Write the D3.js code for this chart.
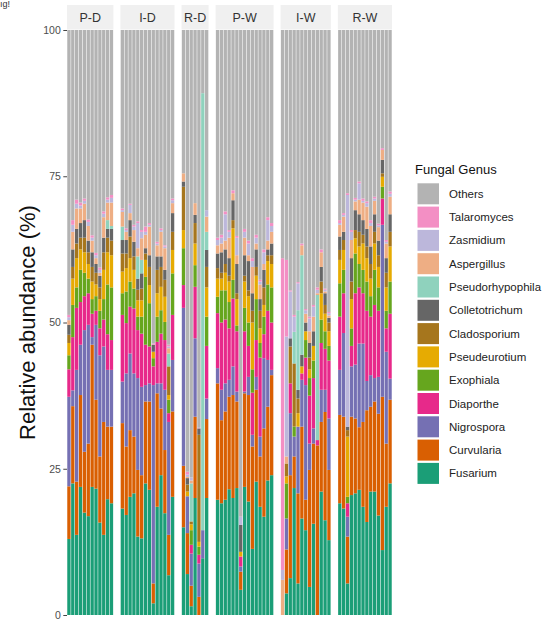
<!DOCTYPE html>
<html>
<head>
<meta charset="utf-8">
<script src="https://cdn.jsdelivr.net/npm/d3@7"></script>
<style>
  body { margin: 0; background: #fff; }
  svg { display: block; font-family: "Liberation Sans", Arial, sans-serif; }
</style>
</head>
<body>
<div id="viz"></div>
<script>
const width = 559;
const height = 625;
const margin = {top: 30, right: 167, bottom: 10, left: 67};
const panelGap = 7;

const facets = ['P-D', 'I-D', 'R-D', 'P-W', 'I-W', 'R-W'];
const barsPerFacet = [12, 14, 7, 15, 13, 14];
const yTicks = [0, 25, 50, 75, 100];

// legend order = top of the stack first
const genera = ['Others', 'Talaromyces', 'Zasmidium', 'Aspergillus', 'Pseudorhypophila', 'Colletotrichum',
  'Cladosporium', 'Pseudeurotium', 'Exophiala', 'Diaporthe', 'Nigrospora', 'Curvularia', 'Fusarium'];
const colors = ['#b3b3b3', '#f38fc4', '#bcb7db', '#eeae84', '#8fd2bd', '#666666',
  '#a6761d', '#e6ab02', '#66a61e', '#e7298a', '#7570b3', '#d95f02', '#1b9e77'];

// relative abundance (%) per sample, in facet order (P-D, I-D, R-D, P-W, I-W, R-W)
const fusarium = [13, 22.5, 13.7, 21.9, 17.5, 16.9, 21.9, 21.6, 15.8, 13.7, 19.8, 19.1,
  18.2, 17.1, 20.2, 20.8, 13.4, 13.1, 22.5, 21.4, 2, 18.5, 23.9, 17.4, 6.8, 20.2,
  15, 7, 1.5, 20, 0, 9.7, 20,
  19.7, 19.1, 19.7, 21.5, 20, 21.7, 4.3, 21.9, 19.4, 11.3, 22.8, 18.5, 16.8, 23, 23.9,
  0, 3.7, 6.3, 21.7, 5.4, 16.5, 14.5, 4.8, 15.6, 0, 21.1, 16.2, 12.8,
  19.1, 18.2, 5.4, 20.5, 20.8, 21.4, 18.5, 15.9, 21.1, 21.1, 17, 11.1, 18.5, 22.5];
const curvularia = [9, 13.2, 9.1, 15.7, 10.4, 12.4, 24.3, 15.2, 11.3, 19.3, 12.4, 13.1,
  14.6, 11.7, 11.4, 9.7, 11.4, 10.8, 14, 15.1, 3.4, 19.4, 11.4, 10.8, 6.9, 14.6,
  10.5, 7, 3.5, 13.9, 3.1, 0, 13.5,
  19.9, 14.2, 15.1, 15.8, 17.6, 14.8, 3.1, 16, 18.2, 17.5, 15.7, 8.6, 15.1, 12.6, 17.1,
  0, 7.5, 17.6, 5.4, 15.4, 15.7, 5.2, 20, 13.7, 29, 11.9, 18.5, 12,
  15.1, 15.7, 8, 13.4, 12.8, 10.7, 14.5, 19.1, 14.5, 15.4, 17.4, 26.2, 10.8, 14.3];
const nigrospora = [15.3, 2.7, 19.1, 8.6, 20.8, 20.3, 1.3, 12.8, 17.3, 12.9, 9.7, 9.7,
  7.1, 12.5, 13.1, 10.8, 15.7, 15.1, 2.8, 3.1, 33.9, 1.7, 4.3, 10.3, 19.3, 8.8,
  27, 6.3, 5.5, 13.4, 5.7, 4.8, 3.5,
  2.6, 5.2, 4.8, 2.9, 4.9, 1.7, 0.9, 0.3, 3.1, 2, 2.2, 3.4, 12, 8, 0.9,
  0, 5.3, 10.6, 3.4, 11.4, 8, 19.6, 4.5, 2.6, 0, 5.5, 3.8, 8.8,
  7.7, 14.3, 3.4, 8.6, 9.2, 14.3, 13.4, 5, 5.4, 4, 6.3, 29.4, 15.7, 3.6];
const diaporthe = [4.7, 9.1, 10.6, 7.3, 5.8, 5.4, 4, 2.4, 4.6, 4.6, 6.1, 5.1,
  11.4, 8.6, 8, 11.1, 8.2, 9.1, 6.9, 6.3, 3.2, 7.1, 8.5, 8.5, 1.5, 7.7,
  3.9, 0, 1.5, 8.8, 1.5, 0, 9,
  9.4, 11.5, 10.9, 8.8, 11.6, 10.3, 1.7, 10.3, 5.3, 7.2, 6.3, 13.5, 4.1, 8.4, 8.1,
  0, 0, 5.1, 0, 0, 1.1, 4.7, 8.2, 8.6, 0.9, 8, 7, 9.9,
  9.1, 6.8, 2.3, 3.5, 12.2, 9.6, 8.6, 12, 10, 12.5, 11.3, 4.5, 4, 11.1];
const exophiala = [2.4, 5.5, 3.5, 5.5, 4, 2.5, 2.5, 2.5, 3, 3.5, 8.5, 9,
  3.7, 5.4, 4.3, 3.4, 2.3, 2.9, 11.6, 7.4, 1.4, 4.3, 4, 3.1, 2.3, 7.1,
  6.3, 0, 2.5, 3.7, 1.4, 0, 5,
  2.8, 5.5, 5, 4.5, 3.2, 1, 0, 4, 4, 4, 7, 2.5, 3, 4.5, 6,
  0, 6, 0, 1.7, 0, 0, 3, 3, 3, 0, 4, 3, 2.5,
  5.7, 4, 1.1, 3, 6.8, 4, 4, 5, 3.5, 6, 4, 2, 3, 5.5];
const pseudeurotium = [2.1, 4.5, 5, 3.5, 3.5, 2.5, 3, 2, 2, 5, 5.5, 5.5,
  3.7, 4, 4, 3.2, 2.8, 2.8, 2.9, 3.1, 1.1, 4, 4, 4.3, 0.8, 4,
  3.1, 0.8, 1, 3.7, 0.8, 0, 5,
  3.1, 2, 3, 3.5, 8.8, 4.5, 0.8, 4.5, 4.5, 8, 4, 2.5, 2, 4, 4,
  0, 1.2, 0, 0, 2.3, 1.2, 1.5, 1.5, 2.5, 0, 4.5, 3, 2.5,
  4, 3.4, 10.3, 5, 2.6, 3, 4.5, 4, 3, 4.5, 3.5, 1.7, 4, 6];
const cladosporium = [1.4, 2, 2.5, 2, 2.5, 2, 2.5, 2, 2, 3, 2.5, 2.5,
  3.1, 2.5, 3.7, 2.3, 1.8, 2, 1.1, 3.1, 0, 4, 3.4, 2.9, 4.9, 3.1,
  7.4, 1.2, 0.5, 3.5, 18.3, 0, 3.5,
  1.8, 1, 1.5, 1, 1.4, 1, 0, 1, 1, 2, 1.5, 3, 3, 1, 1.5,
  0, 2.2, 6.3, 10.8, 2.5, 0, 0, 2, 0, 0, 2, 1.5, 1.5,
  1.7, 1.7, 1.1, 3, 1.4, 2.5, 1.5, 2, 2.5, 2, 2, 0.6, 2.5, 2.5];
const colletotrichum = [1.7, 3, 2.5, 2.5, 3, 2, 2.5, 1.5, 2, 2.5, 1.5, 2,
  2.3, 2.3, 2.8, 2.5, 1.9, 2.6, 0.9, 2, 1.2, 2.3, 1.8, 1.7, 0, 3.2,
  0.9, 1.1, 0, 1.4, 1.1, 0, 2.9,
  2.5, 3.5, 2.5, 3, 3.4, 5, 4.6, 3.5, 5, 3, 3, 2, 3, 1, 2,
  0, 0, 1.4, 0, 1.5, 2, 1.5, 2.5, 2.5, 0, 2.5, 2, 0.8,
  2.3, 1.4, 0.6, 4, 3.4, 3, 2.5, 3, 3, 3, 2.5, 2.3, 2.5, 3];
const pseudorhypophila = [0, 0, 0, 0, 0, 0, 0, 0, 0, 0, 1.5, 0.5,
  2.3, 0, 0, 0, 3.8, 2.3, 0, 0, 0, 0, 0, 0, 2.2, 0,
  0, 0, 6.5, 0, 0, 74.7, 3.1,
  0, 0, 0, 0, 0, 0, 0, 0, 0, 0, 0, 0, 0, 0, 0,
  0, 0, 0, 5.4, 13.6, 17, 0, 0, 0, 24.8, 0, 0, 0,
  0, 0, 0, 0, 0, 0, 0, 0, 0, 0, 0, 0, 0, 0];
const aspergillus = [0.8, 3, 3.5, 2.5, 2.8, 2.5, 2, 1, 0.5, 3.5, 3, 4,
  2.5, 1.4, 1.2, 2, 1.4, 3.7, 2.3, 4.9, 0, 1.9, 4.2, 3.7, 0.9, 1.7,
  1.4, 0.2, 0.5, 2, 0, 0, 2.6,
  1.4, 1.5, 1.5, 3.5, 1.2, 1.5, 0, 3, 1, 4.5, 1, 2.5, 1, 1.5, 2,
  6, 1.2, 0, 0, 0, 1.7, 1.5, 2, 2.5, 0.3, 2.5, 0.3, 0.4,
  2, 2.6, 0, 3.1, 1.5, 2.5, 3, 3.8, 3.5, 2.3, 2.3, 1.7, 2.5, 3];
const zasmidium = [0.5, 1.2, 0.8, 0.5, 0.5, 0.7, 0.5, 0.5, 0.5, 0.6, 0.5, 0.8,
  0.3, 0.3, 1.4, 0.6, 4.3, 1.1, 0.5, 0.3, 0, 0.3, 0.3, 0.3, 0.3, 0.5,
  0, 0.4, 0.5, 0, 0, 0, 1.1,
  0.9, 1, 4.5, 1, 0, 3, 1.4, 1, 2, 1, 1, 0.5, 2, 3.5, 1,
  1.7, 20.5, 8, 2.6, 4.6, 0, 0.6, 2.2, 1.7, 0.6, 0, 0.3, 0.4,
  0.3, 0.3, 39.6, 1.4, 0.3, 2.8, 0.3, 0.6, 0.5, 0.4, 0.3, 0, 0.3, 0.5];
const talaromyces = [0.4, 0.8, 0.7, 0.5, 0.4, 0.4, 0.4, 0.4, 0.4, 0.4, 0.4, 0.5,
  0.3, 0.3, 0.2, 0.3, 0.3, 0.3, 0.9, 0.3, 0.2, 0.3, 0.3, 0.2, 0.3, 0.3,
  0, 0.5, 0, 0, 0.1, 0, 0,
  0.4, 0.5, 0.5, 0.3, 0.5, 0.3, 0, 0.5, 0.5, 0.5, 0.5, 0.3, 0.5, 0.5, 0.5,
  53.3, 13.1, 0.2, 0.3, 0.2, 0.3, 0.2, 0.3, 0.3, 0.4, 0.5, 0.2, 0.2,
  0.5, 0.3, 0.3, 0.3, 0.3, 0.3, 0.4, 0.3, 0.5, 0.3, 0.3, 0.3, 0.3, 0.4];
const others = [48.7, 32.5, 29, 29.5, 28.8, 32.4, 35.1, 38.1, 40.6, 31, 28.6, 28.2,
  30.5, 33.9, 29.7, 33.3, 32.7, 34.2, 33.6, 33, 53.6, 36.2, 33.9, 36.8, 53.8, 28.8,
  24.5, 75.5, 76.5, 29.6, 68, 10.8, 30.8,
  35.5, 35, 31, 34.2, 27.4, 35.2, 83.2, 34, 36, 39, 35, 42.7, 37.5, 32, 33,
  39, 39.3, 44.5, 48.7, 43.1, 36.5, 47.7, 49, 47, 44, 37.5, 44.2, 48.2,
  32.5, 31.3, 27.9, 34.2, 28.7, 25.9, 28.8, 29.3, 32.5, 28.5, 33.1, 20.2, 35.9, 27.6];

const seriesByGenus = {
  Others: others, Talaromyces: talaromyces, Zasmidium: zasmidium, Aspergillus: aspergillus,
  Pseudorhypophila: pseudorhypophila, Colletotrichum: colletotrichum, Cladosporium: cladosporium,
  Pseudeurotium: pseudeurotium, Exophiala: exophiala, Diaporthe: diaporthe,
  Nigrospora: nigrospora, Curvularia: curvularia, Fusarium: fusarium
};

// one row per sample
const samples = [];
let k = 0;
facets.forEach((f, fi) => {
  for (let j = 0; j < barsPerFacet[fi]; j++) {
    const row = {facet: f, id: f + '_' + (j + 1)};
    genera.forEach(g => row[g] = seriesByGenus[g][k]);
    samples.push(row);
    k++;
  }
});

const scaleColor = d3.scaleOrdinal().domain(genera).range(colors);

const scaleY = d3.scaleLinear()
  .domain([0, 100])
  .range([height - margin.bottom, margin.top]);

const svg = d3.select('#viz')
  .append('svg')
    .attr('width', width)
    .attr('height', height)
    .attr('viewBox', [0, 0, width, height]);

// bottom of the stack is the last legend entry
const stack = d3.stack()
  .keys(genera.slice().reverse())
  .order(d3.stackOrderNone)
  .offset(d3.stackOffsetNone);

// panel widths follow the number of samples (free x space)
const totalBars = d3.sum(barsPerFacet);
const unit = (width - margin.left - margin.right - panelGap * (facets.length - 1)) / totalBars;

let x0 = margin.left;
facets.forEach((f, fi) => {
  const rows = samples.filter(d => d.facet === f);
  const x1 = x0 + barsPerFacet[fi] * unit;

  const scaleX = d3.scaleBand()
    .domain(rows.map(d => d.id))
    .range([x0, x1])
    .paddingInner(0.14)
    .paddingOuter(0.07);

  const panel = svg.append('g').attr('class', 'panel');

  panel.selectAll('g.layer')
    .data(stack(rows))
    .join('g')
      .attr('class', 'layer')
      .attr('fill', d => scaleColor(d.key))
    .selectAll('rect')
    .data(d => d)
    .join('rect')
      .attr('x', d => scaleX(d.data.id))
      .attr('width', scaleX.bandwidth())
      .attr('y', d => scaleY(d[1]))
      .attr('height', d => Math.max(0, scaleY(d[0]) - scaleY(d[1])));

  // facet strip
  panel.append('rect')
    .attr('x', x0)
    .attr('y', 5)
    .attr('width', x1 - x0)
    .attr('height', margin.top - 5.5)
    .attr('fill', '#f0f0f0');
  panel.append('text')
    .attr('x', (x0 + x1) / 2)
    .attr('y', 22)
    .attr('text-anchor', 'middle')
    .style('font-size', '12.5px')
    .style('fill', '#333')
    .text(f);

  x0 = x1 + panelGap;
});

// Y axis
const axisLeft = d3.axisLeft(scaleY)
  .tickValues(yTicks)
  .tickSize(3.7)
  .tickPadding(2.5);
const yAxis = svg.append('g')
  .attr('transform', `translate(${margin.left},0)`)
  .call(axisLeft);
yAxis.select('.domain').remove();
yAxis.selectAll('line').attr('stroke', '#444');
yAxis.selectAll('text')
  .style('font-family', '"Liberation Sans", Arial, sans-serif')
  .style('font-size', '10.5px')
  .style('fill', '#4d4d4d');

svg.append('text')
  .attr('class', 'axis-label axis-label-y')
  .attr('text-anchor', 'middle')
  .attr('transform', `translate(35, ${(scaleY(0) + scaleY(100)) / 2}) rotate(-90)`)
  .style('font-size', '22px')
  .style('fill', '#111')
  .text('Relative abundance (%)');

// small leftover text in the top-left corner
svg.append('text')
  .attr('x', 0)
  .attr('y', 7)
  .style('font-size', '9px')
  .style('fill', '#333')
  .text('ıg!');

// legend
const legend = svg.append('g').attr('class', 'legend');
legend.append('text')
  .attr('x', 415)
  .attr('y', 174)
  .style('font-size', '13px')
  .style('fill', '#111')
  .text('Fungal Genus');

const items = legend.selectAll('g.item')
  .data(genera)
  .join('g')
    .attr('class', 'item')
    .attr('transform', (d, i) => `translate(417.5, ${183.3 + i * 23.3})`);
items.append('rect')
  .attr('width', 21.5)
  .attr('height', 21)
  .attr('fill', d => scaleColor(d));
items.append('text')
  .attr('x', 31.5)
  .attr('y', 14.5)
  .style('font-size', '11.5px')
  .style('fill', '#222')
  .text(d => d);
</script>
</body>
</html>
